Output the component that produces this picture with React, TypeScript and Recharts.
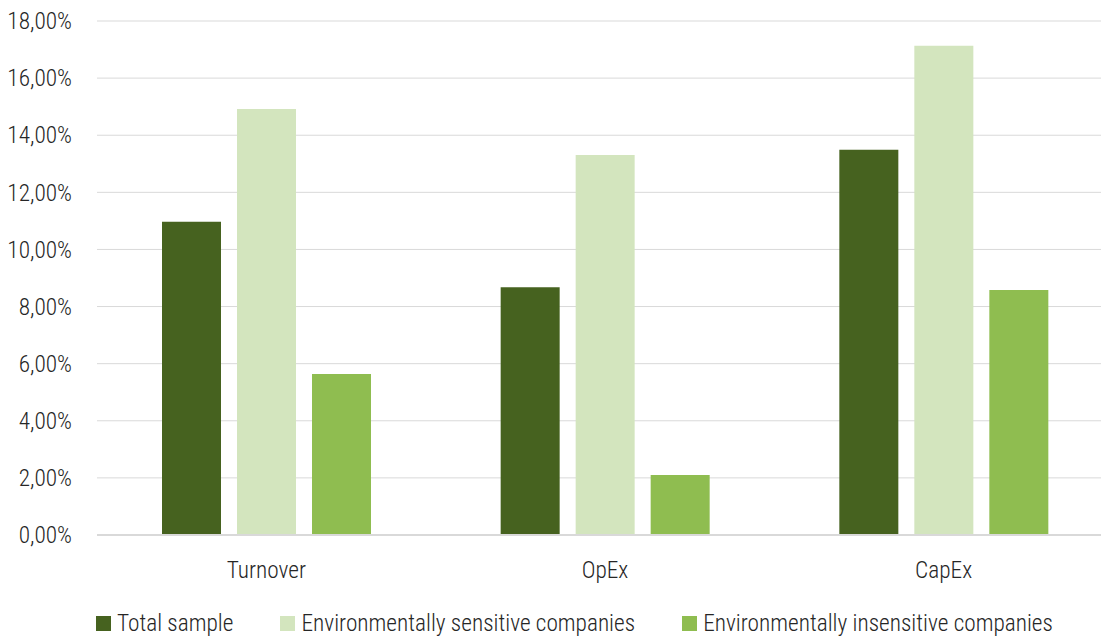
import React from 'react'
import { BarChart, Bar, XAxis, YAxis, CartesianGrid } from 'recharts'

const categories = ['Turnover', 'OpEx', 'CapEx']
const totalSample = [10.97, 8.68, 13.49]
const sensitive = [14.92, 13.31, 17.13]
const insensitive = [5.64, 2.1, 8.58]
const yTicks = [0, 2, 4, 6, 8, 10, 12, 14, 16, 18]

const FONT = '"Roboto Condensed", "Liberation Sans Narrow", "DejaVu Sans Condensed", Roboto, sans-serif'
const TEXT = '#262626'
const FS = 23.3

const series = [
  { key: 'total', name: 'Total sample', color: '#46621F' },
  { key: 'sens', name: 'Environmentally sensitive companies', color: '#D3E5BE' },
  { key: 'insens', name: 'Environmentally insensitive companies', color: '#8FBD50' },
]

const data = categories.map((c, i) => ({
  name: c,
  total: totalSample[i],
  sens: sensitive[i],
  insens: insensitive[i],
}))

const fmt = (v: number) => v.toFixed(2).replace('.', ',') + '%'

export default function App() {
  // plot area runs past the right edge of the picture, so the chart is wider and clipped
  return (
    <div style={{ position: 'fixed', left: 0, top: 0, width: 1101, height: 637, overflow: 'hidden', background: '#fff', fontFamily: FONT }}>
      <BarChart width={1113} height={637} data={data} margin={{ top: 21, right: 0, left: 0, bottom: 52 }}
        barCategoryGap={65} barGap={16}>
        <CartesianGrid vertical={false} stroke="#D9D9D9" strokeWidth={1} />
        <XAxis dataKey="name" axisLine={{ stroke: '#D9D9D9', strokeWidth: 2 }} tickLine={false} height={50}
          tick={{ fill: TEXT, fontSize: FS, fontWeight: 300, fontFamily: FONT }} tickMargin={20} />
        <YAxis domain={[0, 18]} ticks={yTicks} width={97} axisLine={false} tickLine={false} tickMargin={19}
          tickFormatter={fmt} tick={{ fill: TEXT, fontSize: FS, fontWeight: 300, fontFamily: FONT }} interval={0} />
        {series.map(s => (
          <Bar key={s.key} dataKey={s.key} name={s.name} fill={s.color} isAnimationActive={false} />
        ))}
      </BarChart>
      <div style={{ position: 'absolute', top: 609, left: 96, display: 'flex', alignItems: 'center', fontSize: FS, fontWeight: 300, color: TEXT, whiteSpace: 'nowrap' }}>
        {series.map(s => (
          <div key={s.key} style={{ display: 'flex', alignItems: 'center', marginRight: 47 }}>
            <span style={{ display: 'inline-block', width: 15, height: 15, background: s.color, marginRight: 6 }} />
            <span>{s.name}</span>
          </div>
        ))}
      </div>
    </div>
  )
}
